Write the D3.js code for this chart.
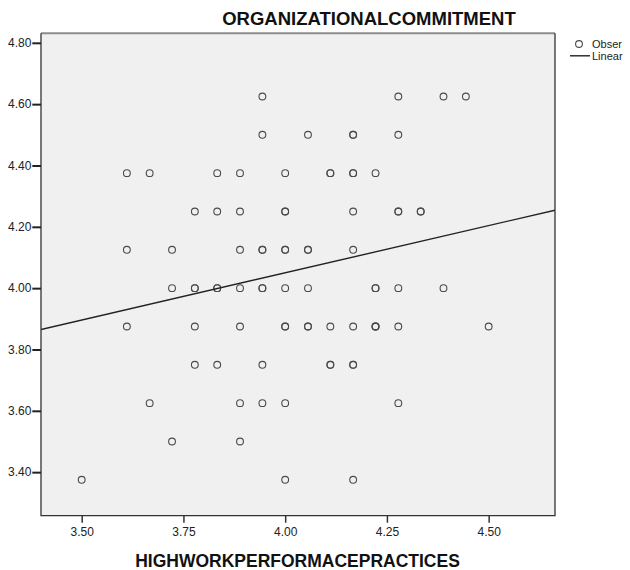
<!DOCTYPE html>
<html>
<head>
<meta charset="utf-8">
<script src="https://cdn.jsdelivr.net/npm/d3@7"></script>
<style>
  html, body { margin: 0; padding: 0; background: #ffffff; }
  svg { display: block; font-family: "Liberation Sans", Arial, sans-serif; }
</style>
</head>
<body>
<svg id="chart" width="630" height="570"></svg>
<script>
// ---- data ----
const chartTitle = "ORGANIZATIONALCOMMITMENT";
const xTitle = "HIGHWORKPERFORMACEPRACTICES";
const legendLabels = ["Obser", "Linear"];

// observed points (HWPP, OC), duplicates repeated
const hwpp = [
  // OC 4.625
  3.944, 4.278, 4.389, 4.444,
  // OC 4.500
  3.944, 4.056, 4.167, 4.167, 4.278,
  // OC 4.375
  3.611, 3.667, 3.833, 3.889, 4.000, 4.111, 4.111, 4.167, 4.167, 4.222,
  // OC 4.250
  3.778, 3.833, 3.889, 4.000, 4.000, 4.167, 4.278, 4.278, 4.333, 4.333,
  // OC 4.125
  3.611, 3.722, 3.889, 3.944, 3.944, 4.000, 4.000, 4.056, 4.056, 4.167,
  // OC 4.000
  3.722, 3.778, 3.778, 3.833, 3.833, 3.889, 3.944, 3.944, 4.000, 4.056, 4.222, 4.222, 4.278, 4.389,
  // OC 3.875
  3.611, 3.778, 3.889, 4.000, 4.000, 4.056, 4.056, 4.111, 4.167, 4.222, 4.222, 4.222, 4.278, 4.500,
  // OC 3.750
  3.778, 3.833, 3.944, 4.111, 4.111, 4.167, 4.167,
  // OC 3.625
  3.667, 3.889, 3.944, 4.000, 4.278,
  // OC 3.500
  3.722, 3.889,
  // OC 3.375
  3.500, 4.000, 4.167
];
const oc = [
  4.625, 4.625, 4.625, 4.625,
  4.5, 4.5, 4.5, 4.5, 4.5,
  4.375, 4.375, 4.375, 4.375, 4.375, 4.375, 4.375, 4.375, 4.375, 4.375,
  4.25, 4.25, 4.25, 4.25, 4.25, 4.25, 4.25, 4.25, 4.25, 4.25,
  4.125, 4.125, 4.125, 4.125, 4.125, 4.125, 4.125, 4.125, 4.125, 4.125,
  4.0, 4.0, 4.0, 4.0, 4.0, 4.0, 4.0, 4.0, 4.0, 4.0, 4.0, 4.0, 4.0, 4.0,
  3.875, 3.875, 3.875, 3.875, 3.875, 3.875, 3.875, 3.875, 3.875, 3.875, 3.875, 3.875, 3.875, 3.875,
  3.75, 3.75, 3.75, 3.75, 3.75, 3.75, 3.75,
  3.625, 3.625, 3.625, 3.625, 3.625,
  3.5, 3.5,
  3.375, 3.375, 3.375
];

// linear fit: OC = a + b * HWPP
const fitCoef = [2.818, 0.308];

const xTicks = [3.50, 3.75, 4.00, 4.25, 4.50];
const yTicks = [3.40, 3.60, 3.80, 4.00, 4.20, 4.40, 4.60, 4.80];
const xDomain = [3.4, 4.663];
const yDomain = [3.258, 4.831];

// ---- drawing ----
const svg = d3.select("#chart");
const plot = { left: 41, right: 555, top: 33.3, bottom: 515.7 };

const x = d3.scaleLinear().domain(xDomain).range([plot.left, plot.right]);
const y = d3.scaleLinear().domain(yDomain).range([plot.bottom, plot.top]);

// background
svg.append("rect")
  .attr("x", plot.left).attr("y", plot.top)
  .attr("width", plot.right - plot.left).attr("height", plot.bottom - plot.top)
  .attr("fill", "#f0f0f0");

// points
const pts = d3.zip(hwpp, oc);
svg.append("g").selectAll("circle").data(pts).join("circle")
  .attr("cx", d => x(d[0]))
  .attr("cy", d => y(d[1]))
  .attr("r", 3.4)
  .attr("fill", "none")
  .attr("stroke", "#4a4a4a")
  .attr("stroke-width", 1.1);

// fit line across the frame
const clipId = "plotclip";
svg.append("clipPath").attr("id", clipId).append("rect")
  .attr("x", plot.left).attr("y", plot.top)
  .attr("width", plot.right - plot.left).attr("height", plot.bottom - plot.top);
const fitLine = d3.line().x(d => x(d)).y(d => y(fitCoef[0] + fitCoef[1] * d));
svg.append("path")
  .attr("clip-path", `url(#${clipId})`)
  .attr("d", fitLine(xDomain))
  .attr("fill", "none")
  .attr("stroke", "#222")
  .attr("stroke-width", 1.4);

// frame
svg.append("line").attr("x1", plot.left).attr("x2", plot.right)
  .attr("y1", plot.top).attr("y2", plot.top)
  .attr("stroke", "#8c8c8c").attr("stroke-width", 2);
svg.append("path")
  .attr("d", `M${plot.left},${plot.top}V${plot.bottom}H${plot.right}V${plot.top}`)
  .attr("fill", "none").attr("stroke", "#333").attr("stroke-width", 1.3);

// axes
const yAxis = d3.axisLeft(y).tickValues(yTicks).tickFormat(d3.format(".2f"))
  .tickSize(8.7).tickPadding(1);
const gy = svg.append("g").attr("transform", `translate(${plot.left},0)`).call(yAxis);
gy.select(".domain").remove();
gy.selectAll(".tick line").attr("stroke", "#222").attr("stroke-width", 2);
gy.selectAll(".tick text").attr("font-size", 12).attr("fill", "#222")
  .attr("font-family", "Liberation Sans, Arial, sans-serif");

const xAxis = d3.axisBottom(x).tickValues(xTicks).tickFormat(d3.format(".2f"))
  .tickSize(7).tickPadding(5);
const gx = svg.append("g").attr("transform", `translate(0,${plot.bottom})`).call(xAxis);
gx.select(".domain").remove();
gx.selectAll(".tick line").attr("stroke", "#333").attr("stroke-width", 1.5);
gx.selectAll(".tick text").attr("font-size", 12).attr("fill", "#222")
  .attr("font-family", "Liberation Sans, Arial, sans-serif");

// titles
svg.append("text").attr("x", 369).attr("y", 25)
  .attr("text-anchor", "middle").attr("font-weight", "bold").attr("font-size", 18.5)
  .attr("fill", "#111").text(chartTitle);
svg.append("text").attr("x", 297.5).attr("y", 566.5)
  .attr("text-anchor", "middle").attr("font-weight", "bold").attr("font-size", 17.5)
  .attr("fill", "#111").text(xTitle);

// legend
const lg = svg.append("g");
lg.append("circle").attr("cx", 579).attr("cy", 44).attr("r", 3.4)
  .attr("fill", "none").attr("stroke", "#4a4a4a").attr("stroke-width", 1.1);
lg.append("text").attr("x", 592).attr("y", 48.2).attr("font-size", 11)
  .attr("fill", "#222").text(legendLabels[0]);
lg.append("line").attr("x1", 570).attr("x2", 590).attr("y1", 55.8).attr("y2", 55.8)
  .attr("stroke", "#222").attr("stroke-width", 1.4);
lg.append("text").attr("x", 592).attr("y", 60).attr("font-size", 11)
  .attr("fill", "#222").text(legendLabels[1]);
</script>
</body>
</html>
